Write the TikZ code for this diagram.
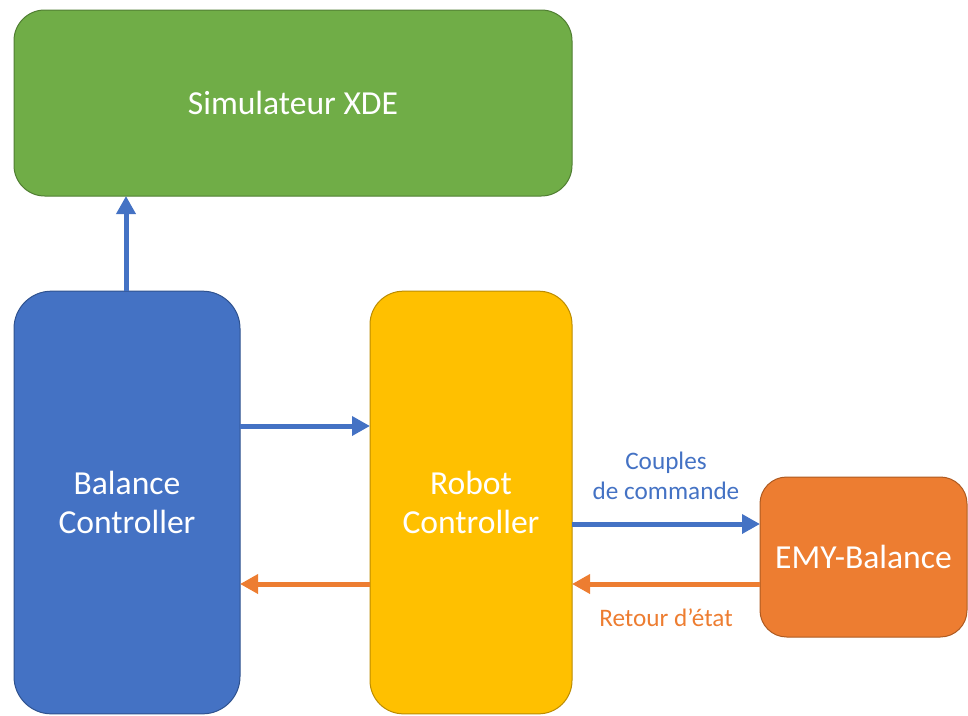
\documentclass[tikz,border=0pt]{standalone}
\usepackage{fontspec}
\setmainfont{Carlito}
\definecolor{simgreen}{HTML}{70AD47}
\definecolor{simgreenline}{HTML}{507E32}
\definecolor{ctrlblue}{HTML}{4472C4}
\definecolor{ctrlblueline}{HTML}{2F528F}
\definecolor{robotyellow}{HTML}{FFC000}
\definecolor{robotyellowline}{HTML}{BC8C00}
\definecolor{emyorange}{HTML}{ED7D31}
\definecolor{emyorangeline}{HTML}{AE5A21}
\usetikzlibrary{arrows.meta,positioning}
\tikzset{
    blockbox/.style={
        text=white,
        line width=0.75pt,
        inner sep=0pt,
        outer sep=0pt,
        align=center,
        font=\fontsize{25.2}{29.3}\selectfont
    },
    blockarrow/.style={
        -{Triangle[length=13.5pt,width=14pt]},
        line width=3.75pt
    },
    arrowlabel/.style={
        align=center,
        inner sep=0pt,
        font=\fontsize{18.9}{22.5}\selectfont
    }
}

\begin{document}
\begin{tikzpicture}[x=0.75pt,y=-0.75pt]
    \useasboundingbox (0,0) rectangle (968,715);

    \node[blockbox,fill=simgreen,draw=simgreenline,rounded corners=23pt,
        minimum width=418.5pt,minimum height=139.5pt] (simulateur) at (293,103) {Simulateur XDE};
    \node[blockbox,fill=ctrlblue,draw=ctrlblueline,rounded corners=28pt,
        minimum width=169.5pt,minimum height=317pt] (balance) at (127,502.5) {Balance\\Controller};
    \node[blockbox,fill=robotyellow,draw=robotyellowline,rounded corners=25pt,
        minimum width=151.5pt,minimum height=317pt] (robot) at (471,502.5) {Robot\\Controller};
    \node[blockbox,fill=emyorange,draw=emyorangeline,rounded corners=20pt,
        minimum width=155.25pt,minimum height=120pt] (emy) at (863.5,557) {EMY-Balance};

    % fleches
    \draw[blockarrow,ctrlblue] (balance.north -| 126,0) -- (simulateur.south -| 126,0);
    \draw[blockarrow,ctrlblue] (balance.east |- 0,426) -- (robot.west |- 0,426);
    \draw[blockarrow,emyorange] (robot.west |- 0,584) -- (balance.east |- 0,584);
    \draw[blockarrow,ctrlblue] (robot.east |- 0,524) --
        node[arrowlabel,text=ctrlblue,above=16pt]{Couples\\de commande} (emy.west |- 0,524);
    \draw[blockarrow,emyorange] (emy.west |- 0,584) --
        node[arrowlabel,text=emyorange,below=17pt]{Retour d’état} (robot.east |- 0,584);
\end{tikzpicture}
\end{document}
